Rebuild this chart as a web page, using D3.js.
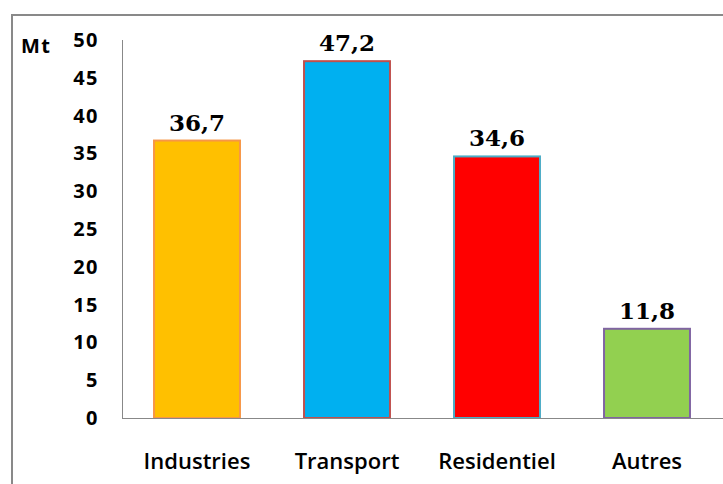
<!DOCTYPE html>
<html lang="fr">
<head>
  <meta charset="UTF-8">
  <title>Emissions par secteur</title>
  <style>
    body { margin: 0; background: #fff; }
    .tick-label { font-family: "Open Sans", sans-serif; font-weight: 700; font-size: 20px; letter-spacing: 1.5px; fill: #000; }
    .cat-label { font-family: "Open Sans", sans-serif; font-weight: 600; font-size: 22px; fill: #000; }
    .val-label { font-family: "DejaVu Serif", serif; font-weight: 700; font-size: 23px; fill: #000; }
  </style>
</head>
<body>
  <script src="https://d3js.org/d3.v7.min.js"></script>
  <script>
    const categories = ['Industries', 'Transport', 'Residentiel', 'Autres'];
    const values = [36.7, 47.2, 34.6, 11.8];
    const valueLabels = ['36,7', '47,2', '34,6', '11,8'];
    const fills = ['#FFC000', '#00B0F0', '#FF0000', '#92D050'];
    const strokes = ['#F79646', '#C0504D', '#4BACC6', '#8064A2'];
    const yTicks = [0, 5, 10, 15, 20, 25, 30, 35, 40, 45, 50];

    const W = 723, H = 484;
    const svg = d3.select('body').append('svg').attr('width', W).attr('height', H);

    // outer frame (right and bottom edges run off the picture)
    svg.append('rect')
      .attr('x', 12).attr('y', 15)
      .attr('width', W + 10).attr('height', H + 10)
      .attr('fill', 'none').attr('stroke', '#898989').attr('stroke-width', 2);

    const x = d3.scaleBand().domain(categories).range([122, 722]).paddingInner(0.427).paddingOuter(0.2135);
    const y = d3.scaleLinear().domain([0, 50]).range([418, 40]);

    // bars
    svg.selectAll('rect.bar')
      .data(categories)
      .enter()
      .append('rect')
        .attr('class', 'bar')
        .attr('x', d => x(d))
        .attr('y', (d, i) => y(values[i]))
        .attr('width', x.bandwidth())
        .attr('height', (d, i) => y(0) - y(values[i]))
        .attr('fill', (d, i) => fills[i])
        .attr('stroke', (d, i) => strokes[i])
        .attr('stroke-width', 2);

    // axes lines
    svg.append('line').attr('x1', 122.5).attr('x2', 122.5).attr('y1', 40).attr('y2', 418)
      .attr('stroke', '#888').attr('stroke-width', 1);
    svg.append('line').attr('x1', 122).attr('x2', W).attr('y1', 418.5).attr('y2', 418.5)
      .attr('stroke', '#888').attr('stroke-width', 1);

    // y tick labels
    svg.selectAll('text.tick-label')
      .data(yTicks)
      .enter()
      .append('text')
        .attr('class', 'tick-label')
        .attr('x', 99)
        .attr('y', d => y(d))
        .attr('dy', '0.35em')
        .attr('text-anchor', 'end')
        .text(d => d);

    svg.append('text').attr('class', 'tick-label')
      .attr('x', 21).attr('y', 46).attr('dy', '0.35em').text('Mt');

    // category labels
    svg.selectAll('text.cat-label')
      .data(categories)
      .enter()
      .append('text')
        .attr('class', 'cat-label')
        .attr('x', d => x(d) + x.bandwidth() / 2)
        .attr('y', 469)
        .attr('text-anchor', 'middle')
        .text(d => d);

    // value labels
    svg.selectAll('text.val-label')
      .data(categories)
      .enter()
      .append('text')
        .attr('class', 'val-label')
        .attr('x', d => x(d) + x.bandwidth() / 2)
        .attr('y', (d, i) => y(values[i]) - 10)
        .attr('text-anchor', 'middle')
        .text((d, i) => valueLabels[i]);
  </script>
</body>
</html>
